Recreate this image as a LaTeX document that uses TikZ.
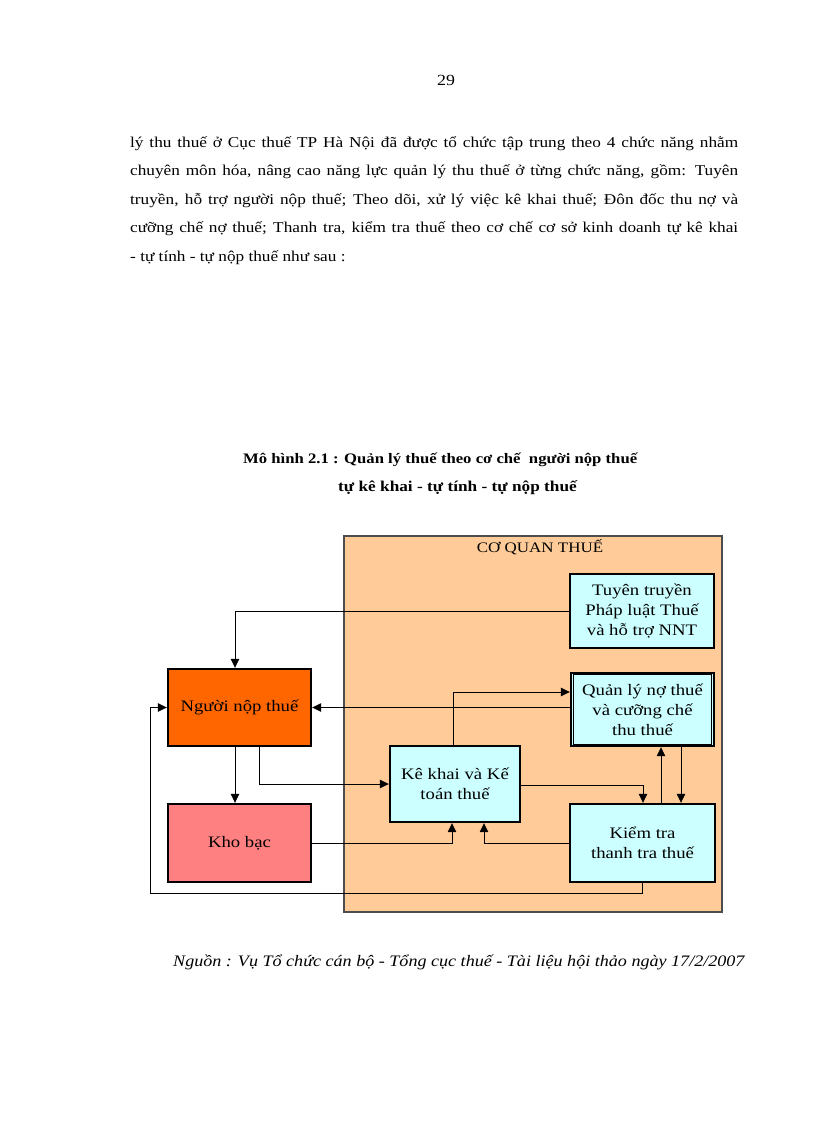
\documentclass[tikz,border=0pt]{standalone}
\usepackage{fontspec}
\setmainfont{Liberation Serif}
\newfontfamily\docf[FakeStretch=1.15]{Liberation Serif}
\newfontfamily\srcf[FakeStretch=1.13]{Liberation Serif}
\newfontfamily\boxf[FakeStretch=1.17]{Liberation Serif}
\usetikzlibrary{arrows.meta,calc}
\definecolor{peach}{HTML}{FFCC99}
\definecolor{lcyan}{HTML}{CCFFFF}
\definecolor{orng}{HTML}{FF6600}
\definecolor{pinkr}{HTML}{FF8080}
\begin{document}
\begin{tikzpicture}[x=1pt,y=-1pt,
  box/.style={draw=black,line width=2.4pt,rectangle,inner sep=2pt,align=center,font=\boxf\fontsize{16}{20}\selectfont},
  conn/.style={draw=black,line width=0.8pt},
  arr/.style={conn,-{Triangle[length=9pt,width=8.5pt]}}]
\useasboundingbox (0,0) rectangle (816,1123);
\node (pg) at (446,80) {\docf\fontsize{15.5}{18}\selectfont 29};
\node[anchor=north west,text width=608pt,align=justify,inner sep=0pt,font=\docf\fontsize{15}{28.5}\selectfont] (para) at (130,136)
{lý thu thuế ở Cục thuế TP Hà Nội đã được tổ chức tập trung theo 4 chức năng nhằm\linebreak
chuyên môn hóa, nâng cao năng lực quản lý thu thuế ở từng chức năng, gồm: Tuyên\linebreak
truyền, hỗ trợ người nộp thuế; Theo dõi, xử lý việc kê khai thuế; Đôn đốc thu nợ và\linebreak
cưỡng chế nợ thuế; Thanh tra, kiểm tra thuế theo cơ chế cơ sở kinh doanh tự kê khai\linebreak
- tự tính - tự nộp thuế như sau :};
\node[anchor=west,inner sep=0pt,font=\docf\bfseries\fontsize{14.5}{18}\selectfont] (t1) at (243,460) {Mô hình 2.1 : Quản lý thuế theo cơ chế \ người nộp thuế};
\node[anchor=west,inner sep=0pt,font=\docf\bfseries\fontsize{15}{18}\selectfont] (t2) at (338,488) {tự kê khai - tự tính - tự nộp thuế};
% big box
\node[draw=black!70,fill=peach,line width=1.2pt,minimum width=378pt,minimum height=376pt,inner sep=0pt] (cqt) at (533,724) {};
\node[font=\boxf\fontsize{14.5}{16}\selectfont,inner sep=0pt] (cqtl) at (540,547) {CƠ QUAN THUẾ};
% boxes
\node[box,fill=lcyan,minimum width=144pt,minimum height=74pt] (tt) at (642,611) {Tuyên truyền\\Pháp luật Thuế\\và hỗ trợ NNT};
\node[box,fill=orng,minimum width=143pt,minimum height=77pt] (nnt) at (239.5,707.5) {Người nộp thuế};
\node[box,fill=lcyan,minimum width=143pt,minimum height=73pt] (qln) at (642.5,709.5) {Quản lý nợ thuế\\và cưỡng chế\\thu thuế};
\draw[line width=0.6pt] ([shift={(3.5pt,-2.5pt)}]qln.north west) rectangle ([shift={(-3.5pt,2.5pt)}]qln.south east);
\node[box,fill=lcyan,minimum width=130pt,minimum height=76pt] (kk) at (455,784) {Kê khai và Kế\\toán thuế};
\node[box,fill=lcyan,minimum width=145pt,minimum height=78pt] (kt) at (642.5,843) {Kiểm tra\\thanh tra thuế};
\node[box,fill=pinkr,minimum width=143pt,minimum height=78pt] (kb) at (239.5,843) {Kho bạc};
% connectors
\draw[arr] (tt.west) -| ([xshift=-4.5pt]nnt.north);
\draw[arr] (qln.west |- nnt.east) -- (nnt.east);
\draw[arr] ([xshift=-4.5pt]nnt.south) -- ([xshift=-4.5pt]kb.north);
\draw[arr] ([xshift=19.5pt]nnt.south) |- (kk.west);
\draw[arr] (kb.east) -| ([xshift=-3pt]kk.south);
\draw[arr] (kt.west) -| ([xshift=29pt]kk.south);
\draw[arr] ([xshift=-2pt]kk.north) |- ([yshift=17.5pt]qln.west);
\draw[arr] ([yshift=-1pt]kk.east) -| ([xshift=0.5pt]kt.north);
\draw[arr] ([xshift=18.5pt]kt.north) -- ([xshift=18.5pt]qln.south);
\draw[arr] ([xshift=38.5pt]qln.south) -- ([xshift=38.5pt]kt.north);
\coordinate (lb) at (150,893);
\draw[arr] (kt.south) |- (lb) |- (nnt.west);
% source
\node[anchor=west,inner sep=0pt,font=\srcf\itshape\fontsize{16}{18}\selectfont] (src) at (173,962) {Nguồn : Vụ Tổ chức cán bộ - Tổng cục thuế - Tài liệu hội thảo ngày 17/2/2007};
\end{tikzpicture}
\end{document}
